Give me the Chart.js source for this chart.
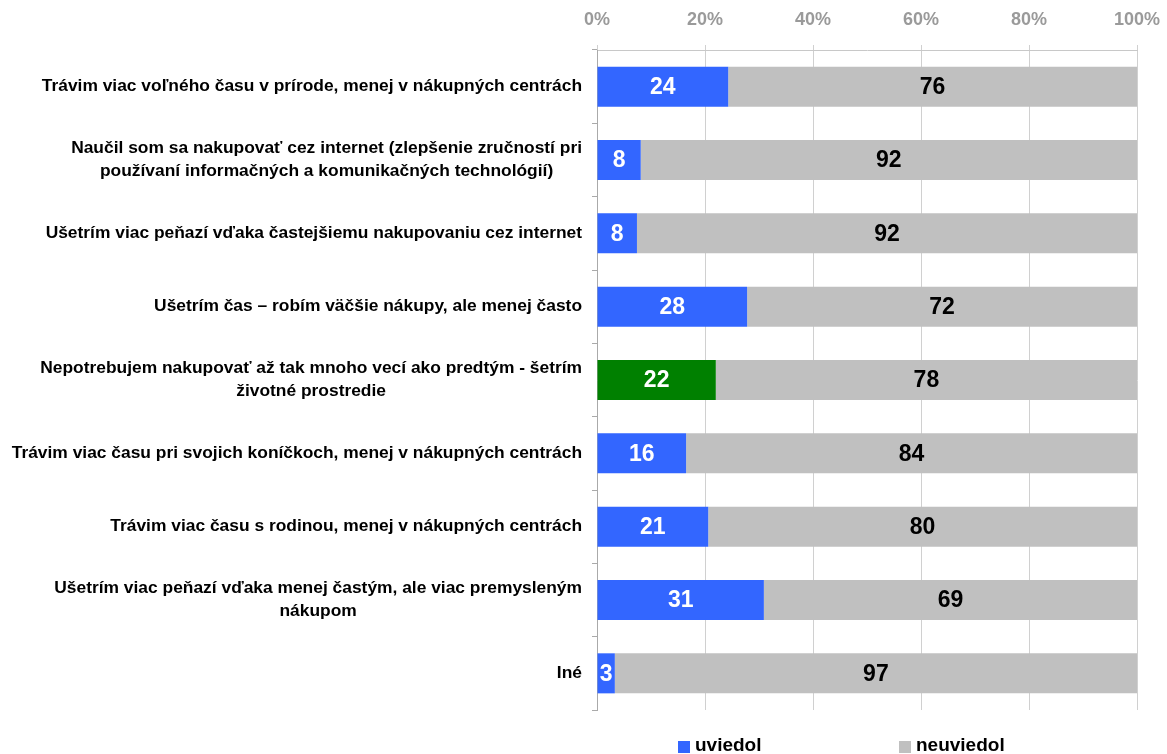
<!DOCTYPE html>
<html><head><meta charset="utf-8">
<script src="https://cdn.jsdelivr.net/npm/chart.js@4/dist/chart.umd.min.js"></script>
<style>html,body{margin:0;padding:0;background:#fff}#wrap{width:1167px;height:754px;position:relative}</style>
</head><body><div id="wrap"><canvas id="c"></canvas></div>
<script>
const categories = [
  ["Trávim viac voľného času v prírode, menej v nákupných centrách"],
  ["Naučil som sa nakupovať cez internet (zlepšenie zručností pri", "používaní informačných a komunikačných technológií)"],
  ["Ušetrím viac peňazí vďaka častejšiemu nakupovaniu cez internet"],
  ["Ušetrím čas – robím väčšie nákupy, ale menej často"],
  ["Nepotrebujem nakupovať až tak mnoho vecí ako predtým - šetrím", "životné prostredie"],
  ["Trávim viac času pri svojich koníčkoch, menej v nákupných centrách"],
  ["Trávim viac času s rodinou, menej v nákupných centrách"],
  ["Ušetrím viac peňazí vďaka menej častým, ale viac premysleným", "nákupom"],
  ["Iné"]
];
const uviedol = [24.3, 8.1, 7.4, 27.8, 22.0, 16.5, 20.6, 30.9, 3.3];
const neuviedol = [75.7, 91.9, 92.6, 72.2, 78.0, 83.5, 79.4, 69.1, 96.7];
const uviedolLabels = ["24", "8", "8", "28", "22", "16", "21", "31", "3"];
const neuviedolLabels = ["76", "92", "92", "72", "78", "84", "80", "69", "97"];
const seriesNames = ["uviedol", "neuviedol"];
const xTickLabels = ["0%", "20%", "40%", "60%", "80%", "100%"];
const highlightIndex = 4;

const BLUE = '#3366FF', GREEN = '#008000', GRAY = '#C0C0C0';
const FONT = '"Liberation Sans", Arial, sans-serif';

const labelsPlugin = {
  id: 'customLabels',
  afterDatasetsDraw(chart) {
    const ctx = chart.ctx;
    const labelSets = [uviedolLabels, neuviedolLabels];
    const colors = ['#ffffff', '#000000'];
    ctx.save();
    ctx.font = 'bold 23px ' + FONT;
    ctx.textAlign = 'center';
    ctx.textBaseline = 'middle';
    chart.data.datasets.forEach((ds, di) => {
      const meta = chart.getDatasetMeta(di);
      meta.data.forEach((bar, i) => {
        ctx.fillStyle = colors[di];
        ctx.fillText(labelSets[di][i], (bar.x + bar.base) / 2, bar.y + 1);
      });
    });
    ctx.restore();
  },
  afterDraw(chart) {
    const ctx = chart.ctx;
    const ys = chart.scales.y;
    const area = chart.chartArea;
    ctx.save();
    ctx.font = 'bold 17.4px ' + FONT;
    ctx.fillStyle = '#000';
    ctx.textAlign = 'center';
    ctx.textBaseline = 'middle';
    const right = area.left - 15;
    const lh = 23;
    categories.forEach((lines, i) => {
      const yc = ys.getPixelForValue(i);
      const maxW = Math.max(...lines.map(l => ctx.measureText(l).width));
      const cx = right - maxW / 2;
      const y0 = yc - (lines.length - 1) * lh / 2;
      lines.forEach((l, k) => ctx.fillText(l, cx, y0 + k * lh));
    });
    const legendColors = [BLUE, GRAY];
    const offsets = [81, 302];
    const ly = 746;
    ctx.font = 'bold 19px ' + FONT;
    ctx.textAlign = 'left';
    seriesNames.forEach((name, k) => {
      const x = area.left + offsets[k];
      ctx.fillStyle = legendColors[k];
      ctx.fillRect(x, ly - 5, 12, 12);
      ctx.fillStyle = '#000';
      ctx.fillText(name, x + 17, ly);
    });
    ctx.restore();
  }
};

new Chart(document.getElementById('c'), {
  type: 'bar',
  data: {
    labels: categories.map(c => c.join(' ')),
    datasets: [
      { label: seriesNames[0], data: uviedol, backgroundColor: uviedol.map((_, i) => i === highlightIndex ? GREEN : BLUE), borderWidth: 0, barPercentage: 0.546, categoryPercentage: 1 },
      { label: seriesNames[1], data: neuviedol, backgroundColor: GRAY, borderWidth: 0, barPercentage: 0.546, categoryPercentage: 1 }
    ]
  },
  options: {
    indexAxis: 'y',
    responsive: true,
    maintainAspectRatio: false,
    animation: false,
    layout: { padding: { top: 0, right: 30, bottom: 44, left: 0 } },
    plugins: { legend: { display: false }, tooltip: { enabled: false } },
    scales: {
      x: {
        position: 'top', stacked: true, min: 0, max: 100,
        ticks: { stepSize: 20, padding: 14, color: '#9a9a9a', font: { family: FONT, size: 18, weight: 'bold' },
          callback: (v, i) => xTickLabels[i] },
        grid: { color: '#d0d0d0', lineWidth: 1, tickLength: 5, drawTicks: true },
        border: { display: true, color: '#c8c8c8' },
        afterFit(scale) { scale.height = 50; scale.paddingRight = 0; scale.paddingLeft = 0; }
      },
      y: {
        stacked: true,
        ticks: { display: false },
        grid: { offset: true, drawOnChartArea: false, drawTicks: true, tickLength: 5, color: '#aaaaaa' },
        border: { display: true, color: '#aaaaaa' },
        afterFit(scale) { scale.width = 597; }
      }
    }
  },
  plugins: [labelsPlugin]
});
</script>
</body></html>
